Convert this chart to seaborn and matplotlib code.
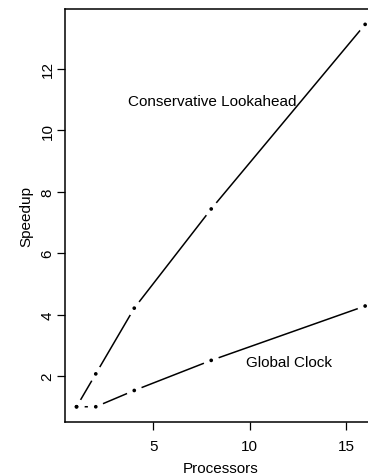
import matplotlib
matplotlib.use("Agg")
import matplotlib.pyplot as plt
import seaborn as sns
import pandas as pd

processors = [1, 2, 4, 8, 16]
conservative = [1.0, 2.07, 4.21, 7.44, 13.45]
global_clock = [1.0, 1.0, 1.53, 2.51, 4.28]
x_ticks = [5, 10, 15]
y_ticks = [2, 4, 6, 8, 10, 12]

sns.set_style("ticks")
plt.rcParams['font.family'] = ['Liberation Sans', 'DejaVu Sans']
plt.rcParams['text.color'] = 'black'
plt.rcParams['axes.labelcolor'] = 'black'
plt.rcParams['xtick.color'] = 'black'
plt.rcParams['ytick.color'] = 'black'

df = pd.DataFrame({
    "Processors": processors * 2,
    "Speedup": conservative + global_clock,
    "series": ["Conservative Lookahead"] * 5 + ["Global Clock"] * 5,
})

fig = plt.figure(figsize=(3.68, 4.77), dpi=100)
ax = fig.add_axes([0.1766, 0.113, 0.847, 0.866])

sns.lineplot(data=df, x="Processors", y="Speedup", units="series", estimator=None,
             color="black", lw=1.1, ax=ax, legend=False)
# white halo to produce gaps around points (R type="b")
sns.scatterplot(data=df, x="Processors", y="Speedup", s=130, color="white",
                edgecolor="none", ax=ax, legend=False, zorder=3)
sns.scatterplot(data=df, x="Processors", y="Speedup", s=7, color="black",
                edgecolor="none", ax=ax, legend=False, zorder=4)

ax.set_xlim(0.4, 16.6)
ax.set_ylim(0.5, 13.95)
ax.set_xticks(x_ticks)
ax.set_yticks(y_ticks)
ax.set_xticklabels([str(t) for t in x_ticks], fontsize=11)
ax.set_yticklabels([str(t) for t in y_ticks], fontsize=11, rotation=90, va="center")
ax.tick_params(direction="out", length=6, width=0.9, color="black", labelcolor="black")
ax.tick_params(axis="x", pad=6)
ax.tick_params(axis="y", pad=1.5)
for s in ax.spines.values():
    s.set_visible(True)
    s.set_linewidth(1.1)
    s.set_color("black")
ax.set_xlabel("Processors", fontsize=11, labelpad=6)
ax.set_ylabel("Speedup", fontsize=11, labelpad=5)

ax.text(8.05, 10.95, "Conservative Lookahead", fontsize=11, ha="center", va="center")
ax.text(12.05, 2.45, "Global Clock", fontsize=11, ha="center", va="center")

fig.savefig("out.png", dpi=100)
